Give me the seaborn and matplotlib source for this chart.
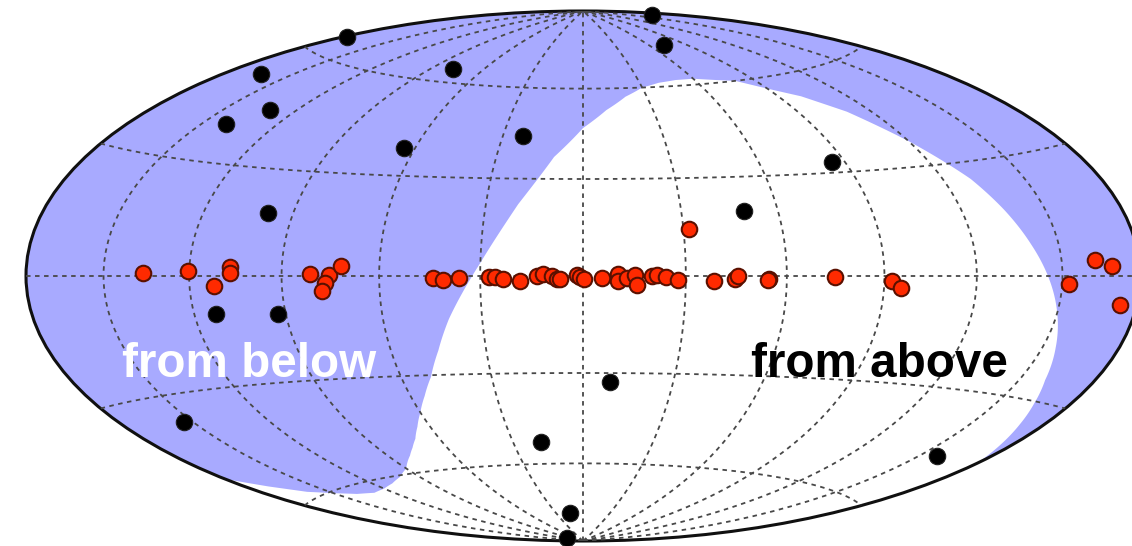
import numpy as np
import pandas as pd
import matplotlib
matplotlib.use("Agg")
import matplotlib.pyplot as plt
from matplotlib.ticker import NullFormatter
import seaborn as sns

# sources off the galactic plane, degrees
black_lon = [-178.1, 166.6, 72.5, -164.0, -77.6, -130.9, -140.2, -22.5, -64.0, 85.5, -98.3, 49.4, -112.7, -92.5, 9.0, -153.5,
             -18.0, 157.5, -14.6, -106.5]
black_lat = [64.8, 82.8, 74.2, 52.6, 64.5, 45.4, 40.1, 43.7, 38.5, 33.1, 17.6, 19.5, -10.3, -10.7, -32.8, -36.8,
             -52.5, -46.3, -78.4, -87.9]

# sources near the plane
red_lon = [-135.8, -120.4, -106.6, -106.5, -111.8, -81.1, -75.2, -76.5, -77.6, -71.6, -43.9, -41.0, -36.2, -27.4, -25.7, -23.3,
           -18.4, -13.4, -11.6, -9.0, -7.6, -6.7, -1.7, -0.9, 0.3, 5.5, 10.2, 10.2, 12.8, 15.1, 15.7, 20.1,
           21.6, 24.2, 27.7, 31.7, 38.3, 44.5, 45.4, 54.6, 54.3, 74.6, 92.4, 95.4, 152.5, 162.5, 168.9, 173.2]
red_lat = [0.8, 1.3, 2.5, 0.8, -2.7, 0.6, 0.3, -2.0, -4.3, 2.9, -0.6, -1.2, -0.6, -0.3, -0.3, -0.9,
           -1.5, 0.0, 0.6, 0.0, -0.9, -0.9, 0.3, -0.3, -0.9, -0.6, 0.6, -1.5, -0.6, 0.3, -2.7, 0.0,
           0.3, -0.3, -1.2, 14.3, -1.5, -0.9, 0.0, -0.9, -1.2, -0.3, -1.4, -3.4, -1.9, 3.7, 2.3, -6.5]

# edge of the region seen from above, then round the bottom of the map
edge_lon = [-180, -170, -160, -150, -140, -130, -120, -110, -100, -90, -80, -75, -70, -65, -60, -55, -50, -45, -40, -35, -30, -20, -10,
            0, 10, 20, 30, 40, 50, 60, 70, 80, 90, 100, 110, 120, 130, 135, 140, 145, 150, 155, 160, 165, 170, 180, 180, -180]
edge_lat = [-50.0, -54.5, -58.3, -60.5, -62.3, -63.2, -62.8, -61.9, -60.5, -58.3, -54.5, -52.2, -49.5, -45.8, -41.4, -36.3, -30.5, -22.5, -13.0, -4.5, 4.0, 22.0, 37.0,
            46.5, 52.5, 57.0, 60.0, 61.4, 62.0, 62.0, 61.0, 60.0, 56.5, 53.0, 47.0, 37.0, 25.5, 17.0, 8.0, -0.5, -9.0, -17.3, -25.0, -30.5, -35.5, -45.0, -90.0, -90.0]

sns.set_theme(style="white")
plt.rcParams["font.family"] = ["Liberation Sans", "DejaVu Sans"]

fig = plt.figure(figsize=(11.32, 5.46), dpi=100)
ax = fig.add_axes([26 / 1132, 5 / 546, 1114 / 1132, 530 / 546], projection="hammer")
ax.set_aspect("auto")
ax.set_facecolor("#a8aaff")

# the white part of the sky
ax.fill(np.radians(edge_lon), np.radians(edge_lat), color="white", lw=0, zorder=1)

ax.set_longitude_grid(30)
ax.set_latitude_grid(30)
ax.set_longitude_grid_ends(90)
ax.xaxis.set_major_formatter(NullFormatter())
ax.yaxis.set_major_formatter(NullFormatter())
ax.set_axisbelow(False)
ax.grid(True, color="#484848", linestyle=(0, (2.5, 2.5)), linewidth=1.3)
ax.spines["geo"].set_linewidth(2.2)
ax.spines["geo"].set_edgecolor("#101010")

black_df = pd.DataFrame({"lon": np.radians(black_lon), "lat": np.radians(black_lat)})
red_df = pd.DataFrame({"lon": np.radians(red_lon), "lat": np.radians(red_lat)})
sns.scatterplot(data=black_df, x="lon", y="lat", ax=ax, color="black", s=140,
                edgecolor="#202020", linewidth=0.8, zorder=3, clip_on=False)
sns.scatterplot(data=red_df, x="lon", y="lat", ax=ax, color="#ff2a00", s=125,
                edgecolor="#5a1000", linewidth=1.5, zorder=4, clip_on=False)
ax.set_xlabel("")
ax.set_ylabel("")

fig.text(122 / 1132, 1 - 377 / 546, "from below", color="white", fontsize=34.3, fontweight="bold", zorder=5)
fig.text(751 / 1132, 1 - 377 / 546, "from above", color="black", fontsize=34.3, fontweight="bold", zorder=5)

fig.savefig("out.png", dpi=100)
